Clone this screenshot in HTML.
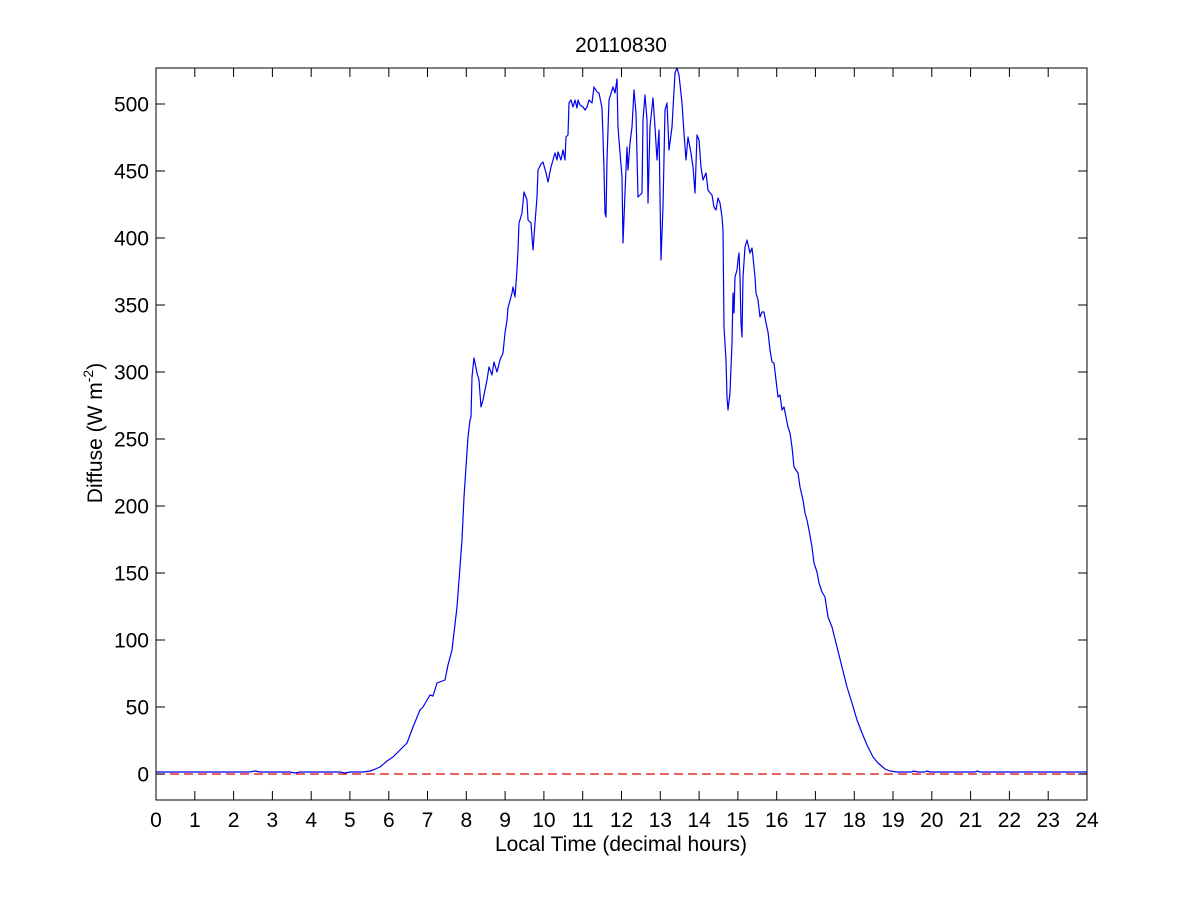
<!DOCTYPE html>
<html>
<head>
<meta charset="utf-8">
<style>
  html,body{margin:0;padding:0;background:#fff;}
  svg{display:block;}
  text{font-family:"Liberation Sans",Arial,sans-serif;fill:#000;}
</style>
</head>
<body>
<svg width="1201" height="900" viewBox="0 0 1201 900" xmlns="http://www.w3.org/2000/svg">
  <rect x="0" y="0" width="1201" height="900" fill="#fff"/>
  <!-- plot area -->
  <rect x="156" y="68" width="931" height="732" fill="#fff" stroke="none"/>

  <!-- red dashed zero line -->
  <line x1="156" y1="774" x2="1087" y2="774" stroke="#e00000" stroke-width="1.2" stroke-dasharray="9,5"/>

  <!-- data -->
  <polyline fill="none" stroke="#0000ee" stroke-width="1.2" stroke-linejoin="round" points="
156,772 250,772 255,771 260,772 290,772 295,773 300,772 340,772 345,773 350,772 360,772 363,772 370,771 373,770 380,767 387,761 393,757 400,750 407,743 413,727 420,710 423,707 430,695 433,696 437,683 445,680 448,665 452,650 457,607 460,567 462,540 464,497 466,467 468,437 470,420 471,417 472,377 473,367 474,358 477,373 479,380 481,407 483,400 485,390 487,380 489,367 492,375 494,362 497,372 500,360 503,353 505,333 507,320 508,308 512,293 513,287 515,297 517,270 518,250 519,223 522,213 524,192 527,200 528,220 531,223 533,250 535,223 537,197 538,170 541,164 543,162 546,173 548,182 551,167 553,160 555,153 557,160 558,152 561,160 563,150 565,160 566,137 568,135 569,103 571,100 573,107 575,100 577,108 578,100 580,105 583,107 585,110 587,107 589,100 592,103 594,87 597,92 599,93 601,103 602,108 603,137 604,170 605,213 606,217 607,160 609,100 612,90 613,87 615,93 617,79 618,127 619,140 622,177 623,243 625,193 627,147 628,170 630,143 632,127 634,90 636,113 638,197 642,193 643,120 645,95 647,120 648,203 650,127 653,98 655,127 657,160 659,130 661,260 663,207 665,110 667,103 669,150 672,127 675,73 677,68 679,75 682,103 684,133 686,160 688,137 691,153 693,167 695,193 697,135 699,140 701,167 703,180 706,173 708,190 710,193 712,195 714,207 716,210 718,198 720,203 722,217 723,230 724,327 726,360 727,397 728,410 730,393 732,343 733,293 734,313 735,277 737,270 738,260 739,253 740,277 741,323 742,337 743,277 745,247 747,240 750,253 752,248 753,257 755,277 756,293 758,300 760,317 762,312 764,312 766,323 768,332 770,350 772,362 774,363 776,380 778,397 780,395 782,410 784,407 786,417 788,427 790,433 792,447 794,467 798,473 800,487 803,500 805,513 807,520 809,530 812,547 814,563 817,572 819,583 822,592 825,597 828,617 832,627 837,647 842,667 847,687 852,703 857,720 862,733 867,745 873,757 878,763 885,769 890,771 897,772 912,772 913,771 918,772 925,772 927,771 930,772 975,772 977,771 980,772 1087,772"/>

  <!-- axes box -->
  <rect x="156" y="68" width="931" height="732" fill="none" stroke="#000" stroke-width="1"/>

  <!-- x ticks (bottom & top) -->
  <g stroke="#000" stroke-width="1">
    <path d="
M156,800v-9 M194.8,800v-9 M233.6,800v-9 M272.4,800v-9 M311.2,800v-9 M349.9,800v-9 M388.8,800v-9 M427.5,800v-9 M466.3,800v-9 M505.1,800v-9 M543.9,800v-9 M582.7,800v-9 M621.5,800v-9 M660.3,800v-9 M699.1,800v-9 M737.9,800v-9 M776.7,800v-9 M815.4,800v-9 M854.3,800v-9 M893,800v-9 M931.8,800v-9 M970.6,800v-9 M1009.4,800v-9 M1048.2,800v-9 M1087,800v-9
M156,68v9 M194.8,68v9 M233.6,68v9 M272.4,68v9 M311.2,68v9 M349.9,68v9 M388.8,68v9 M427.5,68v9 M466.3,68v9 M505.1,68v9 M543.9,68v9 M582.7,68v9 M621.5,68v9 M660.3,68v9 M699.1,68v9 M737.9,68v9 M776.7,68v9 M815.4,68v9 M854.3,68v9 M893,68v9 M931.8,68v9 M970.6,68v9 M1009.4,68v9 M1048.2,68v9 M1087,68v9
M156,774h9 M156,707h9 M156,640h9 M156,573h9 M156,506h9 M156,439h9 M156,372h9 M156,305h9 M156,238h9 M156,171h9 M156,104h9
M1087,774h-9 M1087,707h-9 M1087,640h-9 M1087,573h-9 M1087,506h-9 M1087,439h-9 M1087,372h-9 M1087,305h-9 M1087,238h-9 M1087,171h-9 M1087,104h-9"/>
  </g>

  <!-- x tick labels -->
  <g font-size="21" text-anchor="middle">
    <text x="156" y="827">0</text>
    <text x="194.8" y="827">1</text>
    <text x="233.6" y="827">2</text>
    <text x="272.4" y="827">3</text>
    <text x="311.2" y="827">4</text>
    <text x="349.9" y="827">5</text>
    <text x="388.8" y="827">6</text>
    <text x="427.5" y="827">7</text>
    <text x="466.3" y="827">8</text>
    <text x="505.1" y="827">9</text>
    <text x="543.9" y="827">10</text>
    <text x="582.7" y="827">11</text>
    <text x="621.5" y="827">12</text>
    <text x="660.3" y="827">13</text>
    <text x="699.1" y="827">14</text>
    <text x="737.9" y="827">15</text>
    <text x="776.7" y="827">16</text>
    <text x="815.4" y="827">17</text>
    <text x="854.3" y="827">18</text>
    <text x="893" y="827">19</text>
    <text x="931.8" y="827">20</text>
    <text x="970.6" y="827">21</text>
    <text x="1009.4" y="827">22</text>
    <text x="1048.2" y="827">23</text>
    <text x="1087" y="827">24</text>
  </g>

  <!-- y tick labels -->
  <g font-size="21" text-anchor="end">
    <text x="149" y="781.5">0</text>
    <text x="149" y="714.5">50</text>
    <text x="149" y="647.5">100</text>
    <text x="149" y="580.5">150</text>
    <text x="149" y="513.5">200</text>
    <text x="149" y="446.5">250</text>
    <text x="149" y="379.5">300</text>
    <text x="149" y="312.5">350</text>
    <text x="149" y="245.5">400</text>
    <text x="149" y="178.5">450</text>
    <text x="149" y="111.5">500</text>
  </g>

  <!-- title -->
  <text x="621" y="52" font-size="21" text-anchor="middle">20110830</text>

  <!-- x label -->
  <text x="621" y="851" font-size="21" text-anchor="middle">Local Time (decimal hours)</text>

  <!-- y label -->
  <text transform="translate(102,433) rotate(-90)" font-size="21" text-anchor="middle">Diffuse (W m<tspan font-size="14" dy="-9">-2</tspan><tspan dy="9">)</tspan></text>
</svg>
</body>
</html>
